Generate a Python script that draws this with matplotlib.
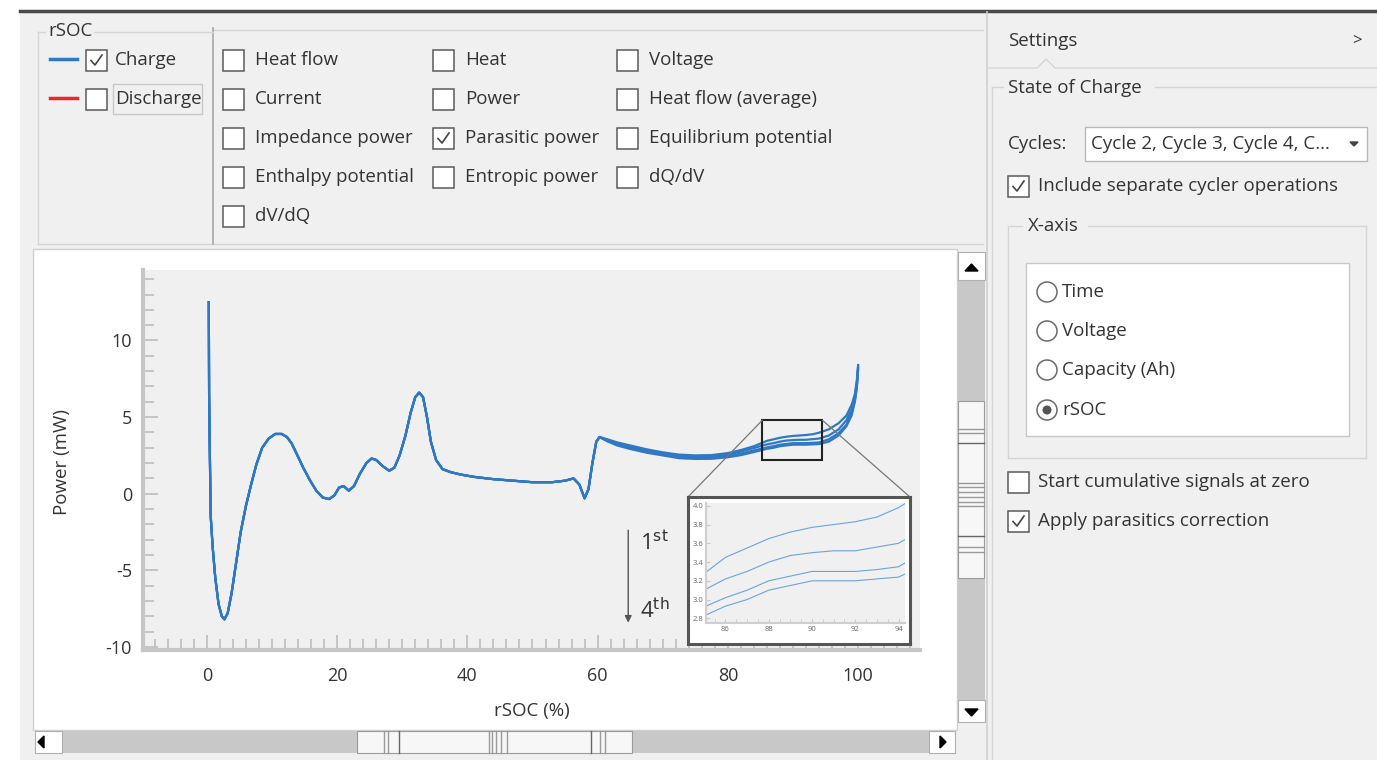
import matplotlib
matplotlib.use('Agg')
import matplotlib.pyplot as plt
import numpy as np
from matplotlib.patches import Rectangle, Circle, ConnectionPatch
from matplotlib.ticker import MultipleLocator

plt.rcParams['font.family'] = ['Open Sans', 'DejaVu Sans']
plt.rcParams['axes.unicode_minus'] = False

# ---- data ----
# part of the curve where all cycles overlap
rsoc_common = [0.3, 0.35, 0.45, 0.6, 0.9, 1.3, 1.8, 2.3, 2.7, 3.2, 3.8, 4.5, 5.2, 6.0,
               6.8, 7.6, 8.5, 9.5, 10.5, 11.5, 12.3, 13.0, 13.8, 14.8, 15.8, 16.8, 17.8,
               18.8, 19.6, 20.3, 21.0, 21.8, 22.6, 23.5, 24.5, 25.3, 26.0, 27.0, 28.0,
               28.8, 29.6, 30.5, 31.3, 32.0, 32.6, 33.2, 33.8, 34.4, 35.2, 36.2, 37.5,
               39.0, 41.0, 44.0, 47.0, 50.0, 53.0, 55.0, 56.3, 57.2, 58.0, 58.6, 59.2, 59.8]
power_common = [12.5, 6.5, 3.0, -1.5, -3.5, -5.5, -7.2, -8.0, -8.2, -7.8, -6.5, -4.5, -2.5, -0.8,
                0.6, 1.9, 3.0, 3.6, 3.9, 3.9, 3.7, 3.3, 2.6, 1.7, 0.9, 0.2, -0.25,
                -0.35, -0.1, 0.4, 0.5, 0.2, 0.5, 1.3, 2.0, 2.3, 2.2, 1.8, 1.5,
                1.7, 2.5, 3.8, 5.3, 6.3, 6.6, 6.3, 5.0, 3.4, 2.2, 1.6, 1.4,
                1.25, 1.1, 0.95, 0.85, 0.75, 0.75, 0.85, 1.0, 0.6, -0.3, 0.3, 2.0, 3.4]

# part where the four cycles separate
rsoc_tail = [60.3, 61.5, 63.0, 65.0, 67.5, 70.0, 72.5, 75.0, 77.5, 80.0, 82.0, 84.0, 86.0,
             87.0, 88.0, 89.0, 90.0, 91.0, 92.0, 93.0, 94.0, 95.5, 97.0, 98.2, 99.0, 99.5,
             99.8, 100.0]
power_cycle1 = [3.7, 3.55, 3.35, 3.15, 2.9, 2.7, 2.55, 2.5, 2.52, 2.65, 2.85, 3.1, 3.45,
                3.55, 3.65, 3.72, 3.77, 3.8, 3.83, 3.88, 3.98, 4.2, 4.6, 5.1, 5.8, 6.5, 7.4, 8.4]
power_cycle2 = [3.7, 3.5, 3.28, 3.05, 2.8, 2.6, 2.45, 2.4, 2.42, 2.55, 2.75, 2.98, 3.22,
                3.3, 3.4, 3.47, 3.5, 3.52, 3.52, 3.56, 3.6, 3.8, 4.2, 4.8, 5.5, 6.3, 7.2, 8.3]
power_cycle3 = [3.7, 3.45, 3.2, 2.98, 2.74, 2.55, 2.38, 2.33, 2.35, 2.45, 2.62, 2.82, 3.02,
                3.1, 3.2, 3.25, 3.3, 3.3, 3.3, 3.32, 3.35, 3.55, 3.95, 4.5, 5.3, 6.1, 7.0, 8.2]
power_cycle4 = [3.7, 3.42, 3.15, 2.92, 2.68, 2.5, 2.32, 2.27, 2.28, 2.38, 2.52, 2.72, 2.93,
                3.0, 3.1, 3.15, 3.2, 3.2, 3.2, 3.22, 3.24, 3.4, 3.8, 4.4, 5.1, 6.0, 6.9, 8.1]
cycles = [power_cycle1, power_cycle2, power_cycle3, power_cycle4]

x_ticks = [0, 20, 40, 60, 80, 100]
y_ticks = [-10, -5, 0, 5, 10]
zoom_box_x = [85.3, 94.5]
zoom_box_y = [2.2, 4.8]
inset_xticks = [86, 88, 90, 92, 94]
inset_yticks = [2.8, 3.0, 3.2, 3.4, 3.6, 3.8, 4.0]

signal_columns = [
    ['Heat flow', 'Current', 'Impedance power', 'Enthalpy potential', 'dV/dQ'],
    ['Heat', 'Power', 'Parasitic power', 'Entropic power'],
    ['Voltage', 'Heat flow (average)', 'Equilibrium potential', 'dQ/dV'],
]
signal_checked = ['Parasitic power']
xaxis_options = ['Time', 'Voltage', 'Capacity (Ah)', 'rSOC']
xaxis_selected = 'rSOC'

W, H = 1377, 760
TXT = '#333333'
FS = 13.5
BLUE = '#2f78c4'

fig = plt.figure(figsize=(W / 100, H / 100), dpi=100)


def px_axes(x0, y0, x1, y1, **kw):
    return fig.add_axes([x0 / W, 1 - y1 / H, (x1 - x0) / W, (y1 - y0) / H], **kw)


# ---- window chrome, drawn in pixel coordinates ----
ui = px_axes(0, 0, W, H, zorder=0)
ui.set_xlim(0, W)
ui.set_ylim(H, 0)
ui.axis('off')


def box(x0, y0, x1, y1, fc='none', ec='none', lw=1.0, z=1):
    ui.add_patch(Rectangle((x0, y0), x1 - x0, y1 - y0, facecolor=fc, edgecolor=ec, lw=lw, zorder=z))


def hline(x0, x1, y, c='#d5d5d5', lw=1.0):
    ui.plot([x0, x1], [y, y], color=c, lw=lw, zorder=2)


def vline(x, y0, y1, c='#d5d5d5', lw=1.0):
    ui.plot([x, x], [y0, y1], color=c, lw=lw, zorder=2)


def label(x, y, s, fs=FS, **kw):
    ui.text(x, y, s, fontsize=fs, color=TXT, va='center', zorder=4, **kw)


def checkbox(x, y, checked=False, size=21):
    box(x, y - size / 2, x + size, y + size / 2, fc='white', ec='#5a5a5a', lw=1.1, z=3)
    if checked:
        ui.plot([x + 5, x + 9, x + 16], [y + 0.5, y + 5, y - 5], color='#444', lw=1.2, zorder=4)


def radio(x, y, on=False):
    ui.add_patch(Circle((x, y), 10, facecolor='white', edgecolor='#6a6a6a', lw=1.1, zorder=3))
    if on:
        ui.add_patch(Circle((x, y), 4.5, facecolor='#555', edgecolor='none', zorder=4))


box(20, 12, W, H, fc='#f0f0f0')
hline(20, W, 11, c='#4a4a4a', lw=2.5)

# top-left signal panel
hline(213, 983, 30)
hline(38, 983, 244)
vline(213, 28, 244, c='#a8a8a8', lw=1.2)
hline(94, 213, 32)
hline(38, 45, 32)
vline(38, 32, 244)
label(48, 31, 'rSOC')
ui.plot([50, 77], [59, 59], color=BLUE, lw=2.5, zorder=3)
ui.plot([50, 77], [98, 98], color='#e8262b', lw=2.5, zorder=3)
checkbox(86, 60, checked=True)
checkbox(86, 99)
label(115, 60, 'Charge')
box(113, 84, 202, 114, ec='#c8c8c8', lw=1.0, z=2)
label(115, 99, 'Discharge')

col_x = [223, 433, 617]
row_y = [60, 99, 138, 177, 216]
for cx, names in zip(col_x, signal_columns):
    for ry, name in zip(row_y, names):
        checkbox(cx, ry, checked=name in signal_checked)
        label(cx + 32, ry, name)

# plot panel and scroll bars
box(33, 249, 957, 730, fc='white', ec='#d0d0d0', lw=1.0)
box(958, 252, 985, 722, fc='#c8c8c8')
box(958, 252, 985, 280, fc='white', ec='#b0b0b0', lw=0.8, z=2)
box(958, 700, 985, 722, fc='white', ec='#b0b0b0', lw=0.8, z=2)
ui.fill([965, 978, 971.5], [271, 271, 264], color='black', zorder=3)
ui.fill([965, 978, 971.5], [709, 709, 716], color='black', zorder=3)
box(958, 401, 984, 578, fc='#f7f7f7', ec='#9a9a9a', lw=0.8, z=2)
for yy, dark in [(429, False), (433, False), (443, True), (483, False), (487, False),
                 (492, False), (497, False), (502, False), (506, False), (536, True),
                 (547, False), (552, False)]:
    hline(958, 984, yy, c='#666' if dark else '#9a9a9a', lw=1.0)

box(35, 731, 955, 753, fc='#c8c8c8')
box(35, 731, 62, 753, fc='white', ec='#b0b0b0', lw=0.8, z=2)
box(929, 731, 955, 753, fc='white', ec='#b0b0b0', lw=0.8, z=2)
ui.fill([44, 44, 38], [736, 748, 742], color='black', zorder=3)
ui.fill([940, 940, 946], [736, 748, 742], color='black', zorder=3)
box(357, 731, 632, 753, fc='#f7f7f7', ec='#9a9a9a', lw=0.8, z=2)
for xx, dark in [(384, False), (388, False), (399, True), (489, False), (492, False),
                 (496, False), (501, False), (507, False), (591, True), (600, False),
                 (605, False)]:
    vline(xx, 731, 753, c='#666' if dark else '#9a9a9a', lw=1.0)

# right settings panel
vline(987, 12, H, c='#d0d0d0', lw=1.2)
label(1008, 41, 'Settings')
label(1352, 41, '>', fs=12)
ui.plot([988, 1037, 1046, 1055, W], [68, 68, 59, 68, 68], color='#d5d5d5', lw=1.0, zorder=2)
ui.plot([992, 1003], [87, 87], color='#d5d5d5', lw=1.0, zorder=2)
ui.plot([1155, W], [87, 87], color='#d5d5d5', lw=1.0, zorder=2)
vline(992, 87, H)
label(1008, 88, 'State of Charge')
label(1008, 144, 'Cycles:')
box(1085, 127, 1367, 161, fc='white', ec='#b8b8b8', lw=1.0, z=2)
label(1091, 144, 'Cycle 2, Cycle 3, Cycle 4, C...')
ui.fill([1350, 1358, 1354], [142, 142, 146], color='#444', zorder=3)
checkbox(1008, 186, checked=True)
label(1038, 186, 'Include separate cycler operations')

ui.plot([1010, 1022], [226, 226], color='#d5d5d5', lw=1.0, zorder=2)
ui.plot([1088, 1366], [226, 226], color='#d5d5d5', lw=1.0, zorder=2)
vline(1008, 226, 458)
vline(1366, 226, 458)
hline(1008, 1366, 458)
label(1028, 226, 'X-axis')
box(1026, 263, 1349, 436, fc='white', ec='#c8c8c8', lw=1.0, z=2)
for ry, name in zip([292, 331, 370, 410], xaxis_options):
    radio(1047, ry, on=name == xaxis_selected)
    label(1062, ry, name)

checkbox(1008, 482)
label(1038, 482, 'Start cumulative signals at zero')
checkbox(1008, 521, checked=True)
label(1038, 521, 'Apply parasitics correction')

# ---- main chart ----
ax = px_axes(143, 270, 920, 650, zorder=1)
ax.set_facecolor('#f0f0f0')
for pw in cycles:
    ax.plot(rsoc_common + rsoc_tail, power_common + pw, color=BLUE, lw=1.6)
ax.set_xlim(-9.8, 109.5)
ax.set_ylim(-10.2, 14.6)
ax.set_xticks(x_ticks)
ax.set_yticks(y_ticks)
ax.xaxis.set_minor_locator(MultipleLocator(2))
ax.yaxis.set_minor_locator(MultipleLocator(1))
for s in ['top', 'right']:
    ax.spines[s].set_visible(False)
for s in ['left', 'bottom']:
    ax.spines[s].set_color('#c6c6c6')
    ax.spines[s].set_linewidth(3)
ax.tick_params(which='both', direction='in', color='#bdbdbd', width=1.2, labelsize=13,
               labelcolor=TXT)
ax.tick_params(which='major', length=11)
ax.tick_params(which='minor', length=8)
ax.tick_params(axis='y', pad=8)
ax.tick_params(axis='x', pad=12)
ax.set_ylabel('Power (mW)', fontsize=FS, color=TXT)
ax.yaxis.label.set_va('center')
ax.yaxis.set_label_coords(-0.104, 0.495)
ax.set_xlabel('rSOC (%)', fontsize=FS, color=TXT)
ax.xaxis.label.set_va('center')
ax.xaxis.set_label_coords(0.5, -0.16)

ax.add_patch(Rectangle((zoom_box_x[0], zoom_box_y[0]), zoom_box_x[1] - zoom_box_x[0],
                       zoom_box_y[1] - zoom_box_y[0], fill=False, ec='#222', lw=1.5, zorder=5))

ax.annotate('', xy=(64.7, -8.6), xytext=(64.7, -2.2),
            arrowprops=dict(arrowstyle='-|>', color='#555', lw=1.0, mutation_scale=10))
ax.text(66.5, -3.2, r'1$^{\mathrm{st}}$', fontsize=16, color=TXT, va='center')
ax.text(66.5, -7.6, r'4$^{\mathrm{th}}$', fontsize=16, color=TXT, va='center')

# ---- zoomed inset ----
frame = px_axes(688, 497, 910, 644, zorder=5)
frame.set_facecolor('white')
frame.set_xticks([])
frame.set_yticks([])
for s in frame.spines.values():
    s.set_color('#555555')
    s.set_linewidth(2.2)

axins = px_axes(706, 503, 905, 623, zorder=6)
axins.set_facecolor('#f0f0f0')
for pw in cycles:
    axins.plot(rsoc_common + rsoc_tail, power_common + pw, color='#6aa3dc', lw=0.8)
axins.set_xlim(85.1, 94.3)
axins.set_ylim(2.75, 4.03)
axins.set_xticks(inset_xticks)
axins.set_yticks(inset_yticks)
axins.set_yticklabels([f'{v:.1f}' for v in inset_yticks])
axins.xaxis.set_minor_locator(MultipleLocator(0.5))
for s in ['top', 'right']:
    axins.spines[s].set_visible(False)
for s in ['left', 'bottom']:
    axins.spines[s].set_color('#cfcfcf')
    axins.spines[s].set_linewidth(1.5)
axins.tick_params(which='both', direction='in', color='#c8c8c8', length=3, labelsize=5.5,
                  labelcolor='#666', pad=2)

for xa, xb in [(zoom_box_x[0], 0), (zoom_box_x[1], 1)]:
    con = ConnectionPatch(xyA=(xa, zoom_box_y[1]), coordsA=ax.transData,
                          xyB=(xb, 1), coordsB=frame.transAxes, color='#777', lw=0.9)
    con.set_zorder(3)
    fig.add_artist(con)

fig.savefig('out.png', dpi=100)
